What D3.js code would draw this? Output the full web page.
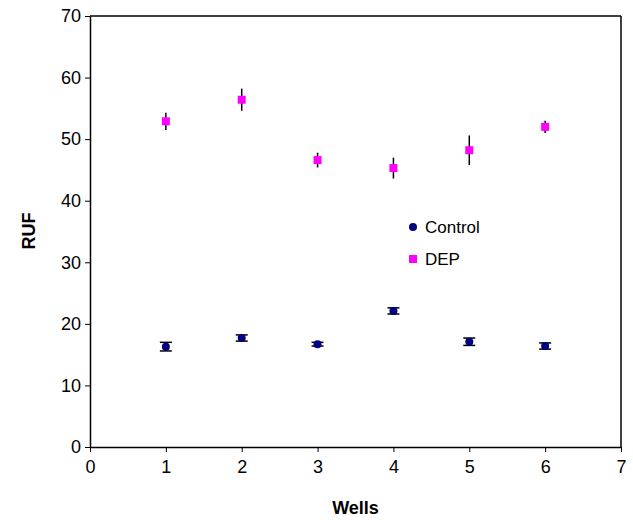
<!DOCTYPE html>
<html>
<head>
<meta charset="utf-8">
<script src="https://cdn.jsdelivr.net/npm/d3@7"></script>
<style>
  body { margin: 0; background: #fff; }
  text { font-family: "Liberation Sans", Arial, sans-serif; }
</style>
</head>
<body>
<div id="chart"></div>
<script>
var svgWidth = 633;
var svgHeight = 520;

var margin = { top: 16, right: 12, bottom: 73, left: 90 };
var width = svgWidth - margin.left - margin.right;
var height = svgHeight - margin.top - margin.bottom;

// data
var wells = [1, 2, 3, 4, 5, 6];
var controlValues = [16.3, 17.7, 16.7, 22.1, 17.1, 16.4];
var controlErrors = [0.7, 0.5, 0.3, 0.5, 0.6, 0.5];
var depValues = [52.9, 56.4, 46.6, 45.3, 48.2, 52.0];
var depErrors = [1.4, 1.8, 1.2, 1.7, 2.4, 1.0];
var xTicks = [0, 1, 2, 3, 4, 5, 6, 7];
var yTicks = [0, 10, 20, 30, 40, 50, 60, 70];

var svg = d3.select("#chart")
  .append("svg")
  .attr("width", svgWidth)
  .attr("height", svgHeight);

var chartGroup = svg.append("g")
  .attr("transform", `translate(${margin.left}, ${margin.top})`);

var xScale = d3.scaleLinear().domain([0, 7]).range([0, width]);
var yScale = d3.scaleLinear().domain([0, 70]).range([height, 0]);

// axes
var bottomAxis = d3.axisBottom(xScale).tickValues(xTicks).tickFormat(d3.format("d"))
  .tickSize(5).tickSizeOuter(0).tickPadding(8);
var leftAxis = d3.axisLeft(yScale).tickValues(yTicks).tickFormat(d3.format("d"))
  .tickSize(5).tickSizeOuter(0).tickPadding(4);

var xAxis = chartGroup.append("g")
  .attr("transform", `translate(0, ${height})`)
  .call(bottomAxis);
var yAxis = chartGroup.append("g").call(leftAxis);

[xAxis, yAxis].forEach(function(ax) {
  ax.select(".domain").attr("stroke", "#000").attr("stroke-width", 1.5);
  ax.selectAll(".tick line").attr("stroke", "#000");
  ax.selectAll(".tick text")
    .attr("fill", "#000")
    .style("font-size", "18px")
    .style("font-family", "'Liberation Sans', Arial, sans-serif");
});

// top and right border
chartGroup.append("line")
  .attr("x1", 0).attr("x2", width).attr("y1", 0).attr("y2", 0)
  .attr("stroke", "#000").attr("stroke-width", 1.5);
chartGroup.append("line")
  .attr("x1", width).attr("x2", width).attr("y1", 0).attr("y2", height)
  .attr("stroke", "#000").attr("stroke-width", 1.5);

// DEP error bars (no caps)
chartGroup.selectAll(".dep-err")
  .data(wells)
  .enter()
  .append("line")
  .attr("x1", d => xScale(d))
  .attr("x2", d => xScale(d))
  .attr("y1", (d, i) => yScale(depValues[i] + depErrors[i]))
  .attr("y2", (d, i) => yScale(depValues[i] - depErrors[i]))
  .attr("stroke", "#000")
  .attr("stroke-width", 1.5);

// control error bars with caps
var ctrlErr = chartGroup.selectAll(".ctrl-err")
  .data(wells)
  .enter()
  .append("g");
ctrlErr.append("line")
  .attr("x1", d => xScale(d))
  .attr("x2", d => xScale(d))
  .attr("y1", (d, i) => yScale(controlValues[i] + controlErrors[i]))
  .attr("y2", (d, i) => yScale(controlValues[i] - controlErrors[i]))
  .attr("stroke", "#000").attr("stroke-width", 1.5);
ctrlErr.append("line")
  .attr("x1", d => xScale(d) - 6)
  .attr("x2", d => xScale(d) + 6)
  .attr("y1", (d, i) => yScale(controlValues[i] + controlErrors[i]))
  .attr("y2", (d, i) => yScale(controlValues[i] + controlErrors[i]))
  .attr("stroke", "#000").attr("stroke-width", 1.5);
ctrlErr.append("line")
  .attr("x1", d => xScale(d) - 6)
  .attr("x2", d => xScale(d) + 6)
  .attr("y1", (d, i) => yScale(controlValues[i] - controlErrors[i]))
  .attr("y2", (d, i) => yScale(controlValues[i] - controlErrors[i]))
  .attr("stroke", "#000").attr("stroke-width", 1.5);

// markers
chartGroup.selectAll(".ctrl")
  .data(wells)
  .enter()
  .append("circle")
  .attr("cx", d => xScale(d))
  .attr("cy", (d, i) => yScale(controlValues[i]))
  .attr("r", 4)
  .attr("fill", "#000080");

chartGroup.selectAll(".dep")
  .data(wells)
  .enter()
  .append("rect")
  .attr("x", d => xScale(d) - 4)
  .attr("y", (d, i) => yScale(depValues[i]) - 4)
  .attr("width", 8)
  .attr("height", 8)
  .attr("fill", "#ff00ff");

// legend
var legend = svg.append("g").attr("transform", "translate(413, 227)");
legend.append("circle").attr("cx", 0).attr("cy", 0).attr("r", 4).attr("fill", "#000080");
legend.append("text").attr("x", 12).attr("y", 6).text("Control").style("font-size", "17px");
legend.append("rect").attr("x", -4).attr("y", 28).attr("width", 8).attr("height", 8).attr("fill", "#ff00ff");
legend.append("text").attr("x", 12).attr("y", 38).text("DEP").style("font-size", "17px");

// axis titles
svg.append("text")
  .attr("x", margin.left + width / 2)
  .attr("y", 514)
  .attr("text-anchor", "middle")
  .style("font-size", "18px")
  .style("font-weight", "bold")
  .text("Wells");

svg.append("text")
  .attr("transform", "rotate(-90)")
  .attr("x", -231)
  .attr("y", 35)
  .attr("text-anchor", "middle")
  .style("font-size", "18px")
  .style("font-weight", "bold")
  .text("RUF");
</script>
</body>
</html>
